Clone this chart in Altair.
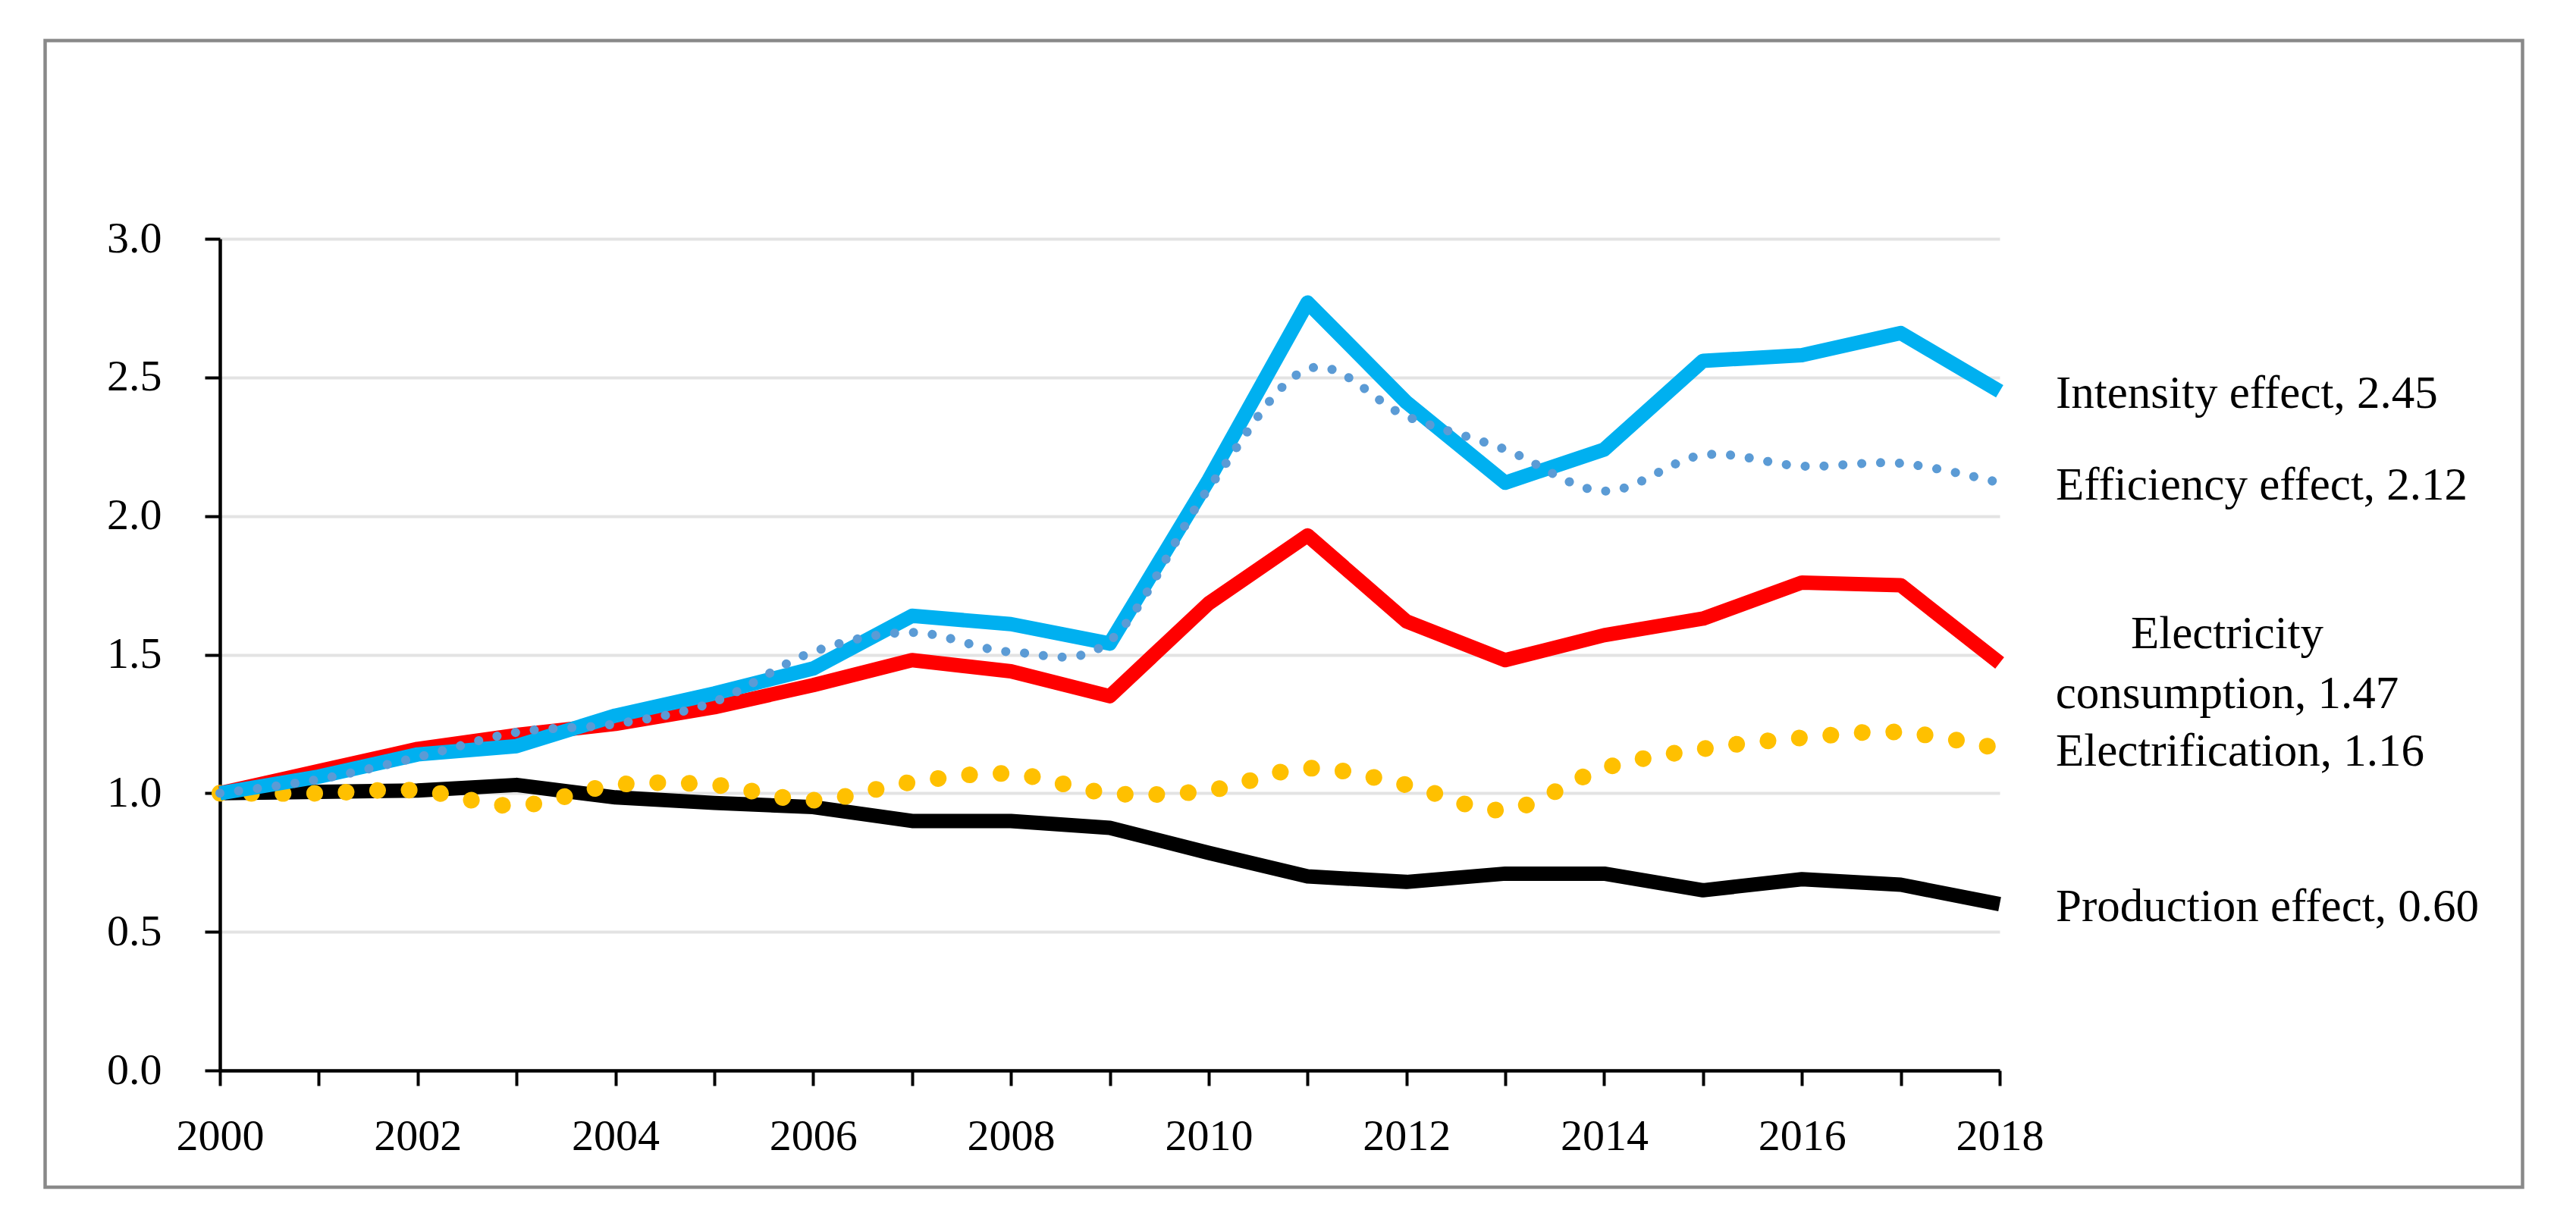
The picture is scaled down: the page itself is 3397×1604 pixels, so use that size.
import altair as alt
import pandas as pd

years = list(range(2000, 2019))

intensity = [1.00, 1.06, 1.14, 1.17, 1.28, 1.36, 1.45, 1.64, 1.61, 1.54,
             2.13, 2.77, 2.41, 2.12, 2.24, 2.56, 2.58, 2.66, 2.45]
efficiency = [1.00, 1.05, 1.13, 1.22, 1.25, 1.33, 1.51, 1.58, 1.51, 1.55,
              2.10, 2.53, 2.36, 2.24, 2.09, 2.22, 2.18, 2.19, 2.12]
electricity = [1.00, 1.08, 1.16, 1.21, 1.25, 1.31, 1.39, 1.48, 1.44, 1.35,
               1.685, 1.93, 1.62, 1.48, 1.57, 1.63, 1.76, 1.75, 1.47]
electrification = [1.00, 1.00, 1.01, 0.955, 1.03, 1.03, 0.975, 1.04, 1.07, 1.00,
                   1.01, 1.09, 1.03, 0.94, 1.09, 1.16, 1.20, 1.22, 1.16]
production = [1.00, 1.005, 1.01, 1.03, 0.985, 0.965, 0.95, 0.90, 0.90, 0.875,
              0.785, 0.70, 0.68, 0.71, 0.71, 0.65, 0.69, 0.67, 0.60]

left_labels = ["Intensity effect, 2.45", "Efficiency effect, 2.12",
               "Electrification, 1.16", "Production effect, 0.60"]
left_label_values = [2.45, 2.12, 1.16, 0.60]
center_label = "Electricity\nconsumption, 1.47"
center_label_value = 1.47

y_ticks = [0.0, 0.5, 1.0, 1.5, 2.0, 2.5, 3.0]

FONT = "Liberation Serif"
W, H = 2347, 1097


def df_of(vals):
    return pd.DataFrame({"year": years, "value": vals})


x_enc = alt.X("year:Q",
              scale=alt.Scale(domain=[2000, 2018], nice=False, zero=False),
              axis=alt.Axis(values=years, format="d",
                            labelExpr="datum.value % 2 == 0 ? datum.label : ''",
                            title=None, grid=False, labelPadding=38,
                            labelFlush=False, labelOverlap=False),
              )
y_enc = alt.Y("value:Q",
              scale=alt.Scale(domain=[0, 3], nice=False, zero=True),
              axis=alt.Axis(values=y_ticks, format=".1f", title=None, grid=True,
                            labelPadding=57),
              )


def solid(vals, color):
    return alt.Chart(df_of(vals)).mark_line(
        color=color, strokeWidth=19, strokeCap="butt", strokeJoin="round"
    ).encode(x=x_enc, y=y_enc)


def dotted(vals, color, width, gap):
    return alt.Chart(df_of(vals)).mark_line(
        color=color, strokeWidth=width, strokeCap="round", strokeDash=[0.1, gap],
        interpolate="cardinal", tension=0
    ).encode(x=x_enc, y=y_enc)


frame = alt.Chart(pd.DataFrame({"a": [0]})).mark_rect(
    fillOpacity=0, stroke="#898989", strokeWidth=4.5
).encode(
    x=alt.value(-230.5), x2=alt.value(3036.5),
    y=alt.value(-261.5), y2=alt.value(1251),
)

lab_df = pd.DataFrame({"year": [2018] * len(left_labels),
                       "value": left_label_values, "label": left_labels})
labels = alt.Chart(lab_df).mark_text(
    align="left", baseline="alphabetic", dx=74, dy=22,
    font=FONT, fontSize=61, color="black"
).encode(x="year:Q", y="value:Q", text="label:N")

c_df = pd.DataFrame({"year": [2018], "value": [center_label_value],
                     "label": [center_label]})
clabel = alt.Chart(c_df).mark_text(
    align="center", baseline="alphabetic", dx=300, dy=-19.5, lineBreak="\n",
    lineHeight=79, font=FONT, fontSize=61, color="black"
).encode(x="year:Q", y="value:Q", text="label:N")

chart = alt.layer(
    frame,
    solid(production, "#000000"),
    dotted(electrification, "#FFC000", 22, 41.5),
    solid(electricity, "#FF0000"),
    solid(intensity, "#00B0F0"),
    dotted(efficiency, "#5B9BD5", 12, 24.8),
    labels,
    clabel,
).properties(
    width=W, height=H,
    autosize=alt.AutoSizeParams(type="none"),
    padding={"left": 282, "top": 307, "right": 752, "bottom": 184},
    background="white",
).configure_view(
    stroke=None
).configure_axis(
    labelFont=FONT, labelFontSize=58, labelColor="black",
    domainColor="black", domainWidth=4.5,
    tickColor="black", tickWidth=4, tickSize=20,
    gridColor="#e3e3e3", gridWidth=4,
)

chart.save("out.html", embed_options={"renderer": "svg", "actions": False})
